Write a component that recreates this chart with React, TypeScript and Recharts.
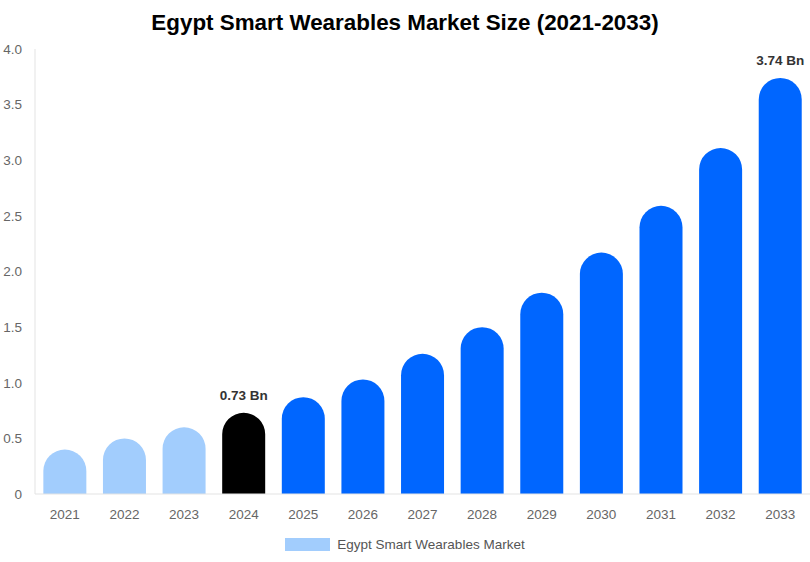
import { BarChart, Bar, XAxis, YAxis, Cell, LabelList, Legend } from "recharts";

const years = ["2021", "2022", "2023", "2024", "2025", "2026", "2027", "2028", "2029", "2030", "2031", "2032", "2033"];
const marketSize = [0.4, 0.5, 0.6, 0.73, 0.87, 1.03, 1.26, 1.5, 1.81, 2.17, 2.59, 3.11, 3.74];
const valueLabels = ["", "", "", "0.73 Bn", "", "", "", "", "", "", "", "", "3.74 Bn"];
const yTicks = [0, 0.5, 1, 1.5, 2, 2.5, 3, 3.5, 4];

const HISTORIC = "#a2cdfd";
const BASE_YEAR = "#000000";
const FORECAST = "#0066ff";
const FONT = "'Liberation Sans', Arial, sans-serif";

const chartData = years.map((year, i) => ({
  year,
  value: marketSize[i],
  label: valueLabels[i],
}));

function barColor(i: number) {
  if (i < 3) return HISTORIC;
  if (i === 3) return BASE_YEAR;
  return FORECAST;
}

function TopLabel(props: any) {
  const { x, y, width, value } = props;
  if (!value) return null;
  return (
    <text
      x={Number(x) + Number(width) / 2}
      y={Number(y) - 13}
      textAnchor="middle"
      fontFamily={FONT}
      fontSize={13.5}
      fontWeight="bold"
      fill="#333"
    >
      {value}
    </text>
  );
}

function LegendBox() {
  return (
    <div
      style={{
        height: 30,
        display: "flex",
        justifyContent: "center",
        alignItems: "flex-start",
        paddingTop: 14,
        boxSizing: "border-box",
        fontFamily: FONT,
        fontSize: 13.5,
        color: "#555",
      }}
    >
      <span style={{ display: "inline-block", width: 45, height: 13, background: HISTORIC, marginRight: 7 }} />
      <span style={{ lineHeight: "13px" }}>Egypt Smart Wearables Market</span>
    </div>
  );
}

export default function App() {
  return (
    <div style={{ position: "absolute", left: 0, top: 0, width: 810, height: 562, background: "#fff" }}>
      <div
        style={{
          position: "absolute",
          top: 10,
          left: 0,
          width: 810,
          textAlign: "center",
          fontFamily: FONT,
          fontSize: 22.4,
          fontWeight: "bold",
          color: "#000",
        }}
      >
        Egypt Smart Wearables Market Size (2021-2033)
      </div>
      <BarChart
        width={810}
        height={562}
        data={chartData}
        margin={{ top: 49, right: 0, left: 0, bottom: 8 }}
        barCategoryGap="14%"
      >
        <XAxis
          dataKey="year"
          height={30}
          tickLine={false}
          tickMargin={9}
          axisLine={{ stroke: "#e3e3e3" }}
          tick={{ fill: "#666", fontSize: 13.5, fontFamily: FONT }}
        />
        <YAxis
          width={35}
          domain={[0, 4]}
          ticks={yTicks}
          tickLine={false}
          tickMargin={7}
          axisLine={{ stroke: "#e3e3e3" }}
          tick={{ fill: "#666", fontSize: 13.5, fontFamily: FONT }}
          tickFormatter={(v: number) => (v === 0 ? "0" : v.toFixed(1))}
        />
        <Legend verticalAlign="bottom" content={<LegendBox />} />
        <Bar dataKey="value" name="Egypt Smart Wearables Market" radius={[21.5, 21.5, 0, 0]} isAnimationActive={false}>
          {chartData.map((d, i) => (
            <Cell key={d.year} fill={barColor(i)} />
          ))}
          <LabelList dataKey="label" content={<TopLabel />} />
        </Bar>
      </BarChart>
    </div>
  );
}
